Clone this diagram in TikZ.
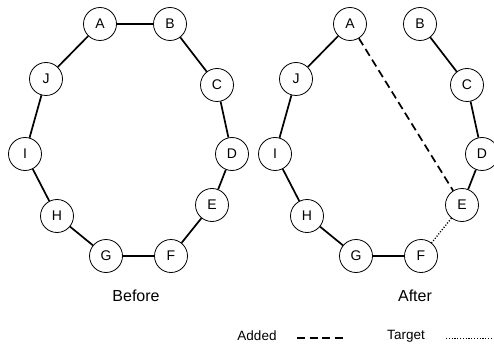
\documentclass[tikz,border=0pt]{standalone}
\usepackage{fontspec}
\setmainfont{Liberation Sans}
\usetikzlibrary{positioning}

\begin{document}
\begin{tikzpicture}[x=1pt,y=-1pt,
  vtx/.style={draw,circle,line width=0.8pt,minimum size=33pt,inner sep=0pt,font=\fontsize{14}{14}\selectfont},
  link/.style={line width=1.7pt},
  added/.style={line width=1.7pt,dash pattern=on 8pt off 4.5pt},
  target/.style={line width=1.3pt,dash pattern=on 1.1pt off 1.7pt},
  lbl/.style={font=\fontsize{16}{16}\selectfont},
  key/.style={font=\fontsize{13.5}{13.5}\selectfont}]
\useasboundingbox (0,0) rectangle (494,347);
% before
\node[vtx] (A1) at (100,24) {A};
\node[vtx] (B1) at (170,24) {B};
\node[vtx] (C1) at (217,85) {C};
\node[vtx] (D1) at (232,154) {D};
\node[vtx] (E1) at (212,205) {E};
\node[vtx] (F1) at (171,256) {F};
\node[vtx] (G1) at (106,256) {G};
\node[vtx] (H1) at (57,216) {H};
\node[vtx] (I1) at (25,154) {I};
\node[vtx] (J1) at (46,79) {J};
\draw[link] (A1)--(B1);
\draw[link] (B1)--(C1);
\draw[link] (C1)--(D1);
\draw[link] (D1)--(E1);
\draw[link] (E1)--(F1);
\draw[link] (F1)--(G1);
\draw[link] (G1)--(H1);
\draw[link] (H1)--(I1);
\draw[link] (I1)--(J1);
\draw[link] (J1)--(A1);
\node[lbl] (before) at (136,296) {Before};
% after
\node[vtx] (A2) at (350,24) {A};
\node[vtx] (B2) at (420,24) {B};
\node[vtx] (C2) at (467,85) {C};
\node[vtx] (D2) at (482,154) {D};
\node[vtx] (E2) at (462,205) {E};
\node[vtx] (F2) at (421,256) {F};
\node[vtx] (G2) at (356,256) {G};
\node[vtx] (H2) at (307,216) {H};
\node[vtx] (I2) at (275,154) {I};
\node[vtx] (J2) at (296,79) {J};
\draw[link] (A2)--(J2);
\draw[link] (J2)--(I2);
\draw[link] (I2)--(H2);
\draw[link] (H2)--(G2);
\draw[link] (G2)--(F2);
\draw[link] (B2)--(C2);
\draw[link] (C2)--(D2);
\draw[link] (D2)--(E2);
\draw[added] (A2)--(E2);
\draw[target] (E2)--(F2);
\node[lbl] (after) at (415,296) {After};
% legend
\node[key] (addedtxt) at (257,336) {Added};
\coordinate (d1) at (297,338);
\coordinate (d2) at (343,338);
\draw[added] (d1)--(d2);
\node[key] (targettxt) at (406,336) {Target};
\coordinate (t1) at (446,338);
\coordinate (t2) at (494,338);
\draw[target,line width=0.9pt] (t1)--(t2);
\end{tikzpicture}
\end{document}
